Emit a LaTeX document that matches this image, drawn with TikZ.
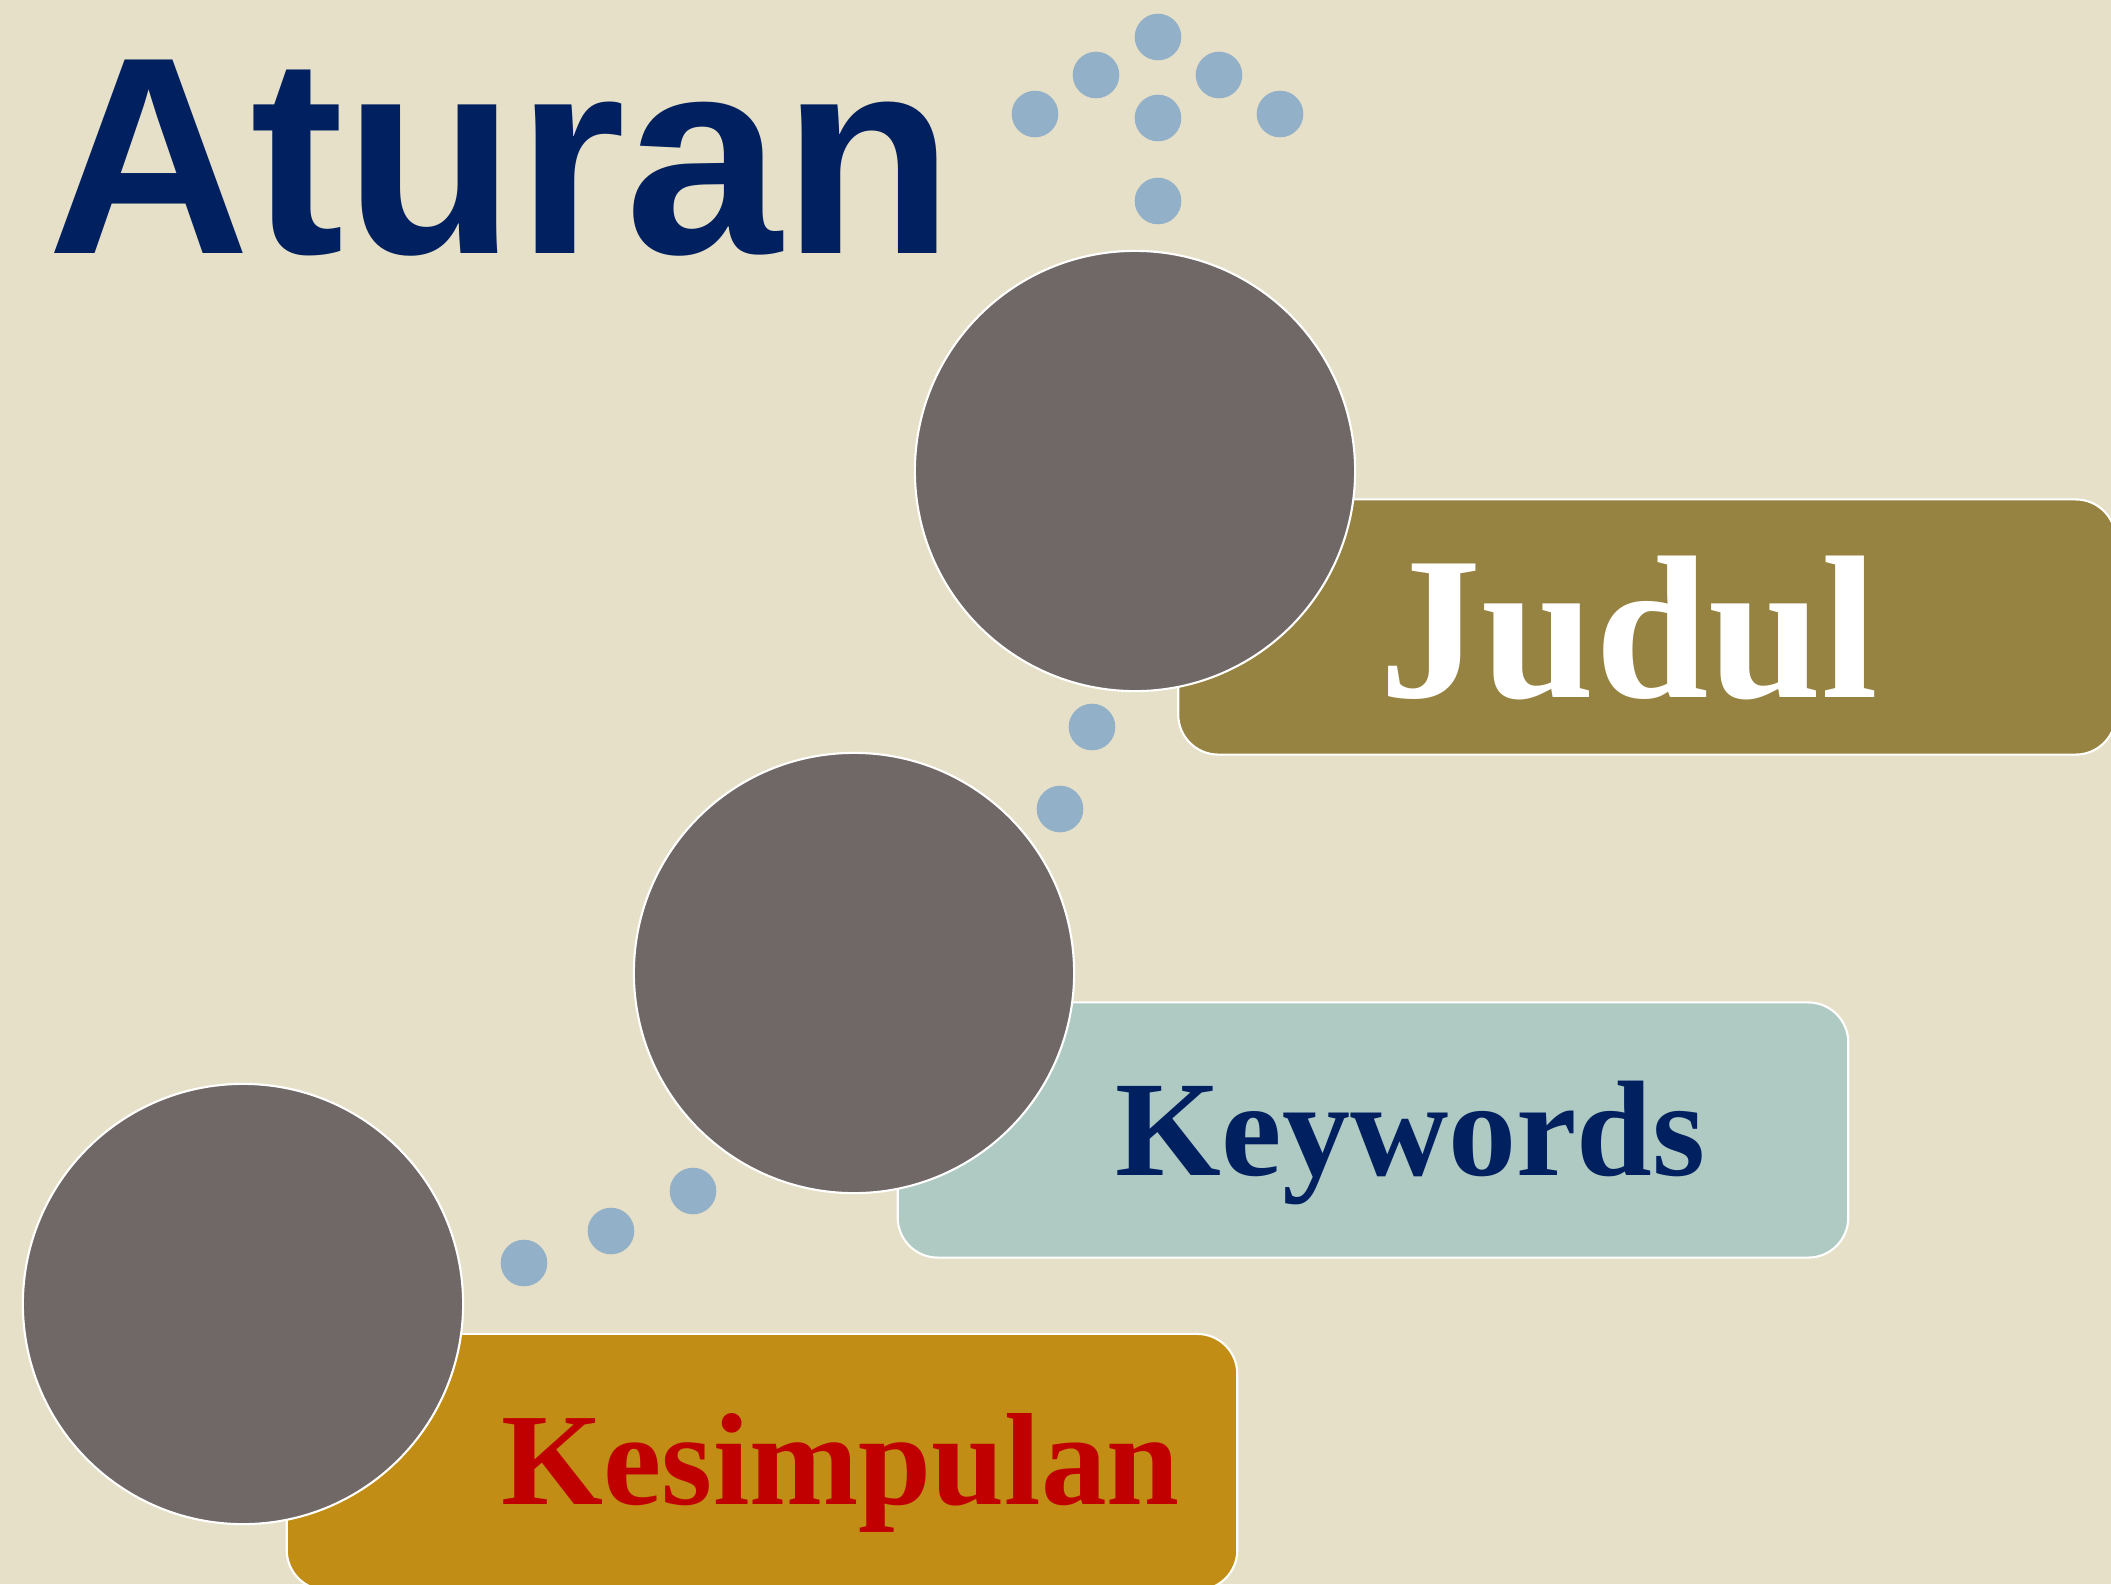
\documentclass[tikz,border=0pt]{standalone}
\usepackage{fontspec}
\setmainfont{Liberation Serif}
\newfontfamily\titlefont{Liberation Sans}
\usepackage{tikz}

\definecolor{paper}{RGB}{231,224,200}
\definecolor{navy}{RGB}{0,32,96}
\definecolor{dotblue}{RGB}{147,176,201}
\definecolor{disc}{RGB}{112,103,103}
\definecolor{olive}{RGB}{150,131,65}
\definecolor{sage}{RGB}{175,201,195}
\definecolor{ochre}{RGB}{193,141,20}
\definecolor{redtext}{RGB}{192,0,0}

\tikzset{
  bigdisc/.style={circle, fill=disc, draw=white, line width=0.6pt, minimum size=4.4cm, inner sep=0pt},
  dot/.style={circle, fill=dotblue, minimum size=0.466cm, inner sep=0pt},
  tab/.style={rectangle, rounded corners=0.4cm, draw=white, line width=0.6pt, minimum height=2.55cm, inner sep=0pt},
  word/.style={anchor=base west, inner sep=0pt, font=\bfseries}
}

\begin{document}
\begin{tikzpicture}[x=0.01cm, y=-0.01cm]
  \fill[paper] (0,0) rectangle (2111,1584);
  \useasboundingbox (0,0) rectangle (2111,1584);

  % judul
  \node[word, text=navy, font=\titlefont\bfseries\fontsize{80}{80}\selectfont] (aturan) at (47,253) {Aturan};

  % titik di atas
  \node[dot] (t1) at (1158,37) {};
  \node[dot] (t2) at (1096,75) {};
  \node[dot] (t3) at (1219,75) {};
  \node[dot] (t4) at (1035,114) {};
  \node[dot] (t5) at (1158,118) {};
  \node[dot] (t6) at (1280,114) {};
  \node[dot] (t7) at (1158,201) {};

  % kotak-kotak
  \node[tab, fill=olive, minimum width=9.37cm] (boxjudul) at (1647,627) {};
  \node[tab, fill=sage, minimum width=9.5cm] (boxkey) at (1373,1130) {};
  \node[tab, fill=ochre, minimum width=9.5cm, minimum height=2.56cm] (boxkes) at (762,1462) {};

  % lingkaran besar
  \node[bigdisc] (c1) at (1135,471) {};
  \node[bigdisc] (c2) at (854,973) {};
  \node[bigdisc] (c3) at (243,1304) {};

  % titik penghubung
  \node[dot] (d1) at (1092,727) {};
  \node[dot] (d2) at (1060,809) {};
  \node[dot] (d3) at (693,1191) {};
  \node[dot] (d4) at (611,1231) {};
  \node[dot] (d5) at (524,1263) {};

  % teks
  \node[word, text=white, font=\bfseries\fontsize{58}{58}\selectfont] (judul) at (1379,697) {Judul};
  \node[word, text=navy, font=\bfseries\fontsize{38.7}{38.7}\selectfont] (keywords) at (1115,1175) {Keywords};
  \node[word, text=redtext, font=\bfseries\fontsize{37.3}{37.3}\selectfont] (kesimpulan) at (501,1504) {Kesimpulan};
\end{tikzpicture}
\end{document}
